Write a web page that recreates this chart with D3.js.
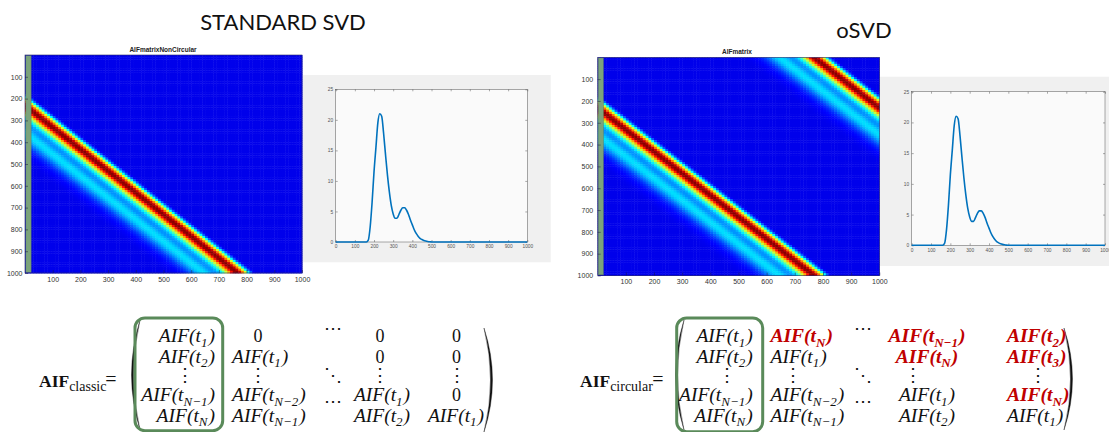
<!DOCTYPE html>
<html><head><meta charset="utf-8">
<script src="https://cdn.jsdelivr.net/npm/d3@7"></script>
<style>body{margin:0;background:#fff}svg{display:block}</style>
</head><body>
<svg id="c" width="1109" height="432"></svg>
<script>
// ---------------- DATA ----------------
const timeGrid = d3.range(0, 1000, 10); // sample times (10-unit steps)
const aifValues = [
 0,0,0,0,0,0,0,0,0,0,0,0,0,0,0,0,0,
 0.3,2.5,6.5,11.5,15.5,19.5,21.0,20.6,17.8,14.3,11.0,8.2,6.0,4.6,3.9,3.9,4.5,5.2,5.6,5.6,5.2,4.5,3.6,2.8,2.0,1.4,0.95,0.6,0.4,0.25,0.15,0.08,0.03,0.01,
 0,0,0,0,0,0,0,0,0,0,0,0,0,0,0,0,0,0,0,0,0,0,0,0,0,0,0,0,0,0,0,0,0,0,0,0,0,0,0,0,0,0,0,0,0,0,0,0,0
];
const heatTicks = [100,200,300,400,500,600,700,800,900,1000];
const lineXTicks = [0,100,200,300,400,500,600,700,800,900,1000];
const lineYTicks = [0,5,10,15,20,25];
const sectionTitles = ["STANDARD SVD", "oSVD"];
const heatTitles = ["AIFmatrixNonCircular", "AIFmatrix"];
const lhsSubs = ["classic", "circular"];
const classicRows = [
 ["1","0","⋯","0","0"],
 ["2","1","","0","0"],
 ["⋮","⋮","⋱","⋮","⋮"],
 ["N−1","N−2","","1","0"],
 ["N","N−1","⋯","2","1"]
];
const circularRows = [
 ["1","N","⋯","N−1","2"],
 ["2","1","","N","3"],
 ["⋮","⋮","⋱","⋮","⋮"],
 ["N−1","N−2","","1","N"],
 ["N","N−1","⋯","2","1"]
];
const circularRed = [
 [0,1,0,1,1],
 [0,0,0,1,1],
 [0,0,0,0,0],
 [0,0,0,0,1],
 [0,0,0,0,0]
];

// ---------------- LAYOUT ----------------
const svg = d3.select("#c");
const N = aifValues.length;
const jetClim = [-2.5, 21.2];
const jetPos = [0, .125, .375, .625, .875, 1];
const jet = d3.scaleLinear()
  .domain(jetPos.map(f => jetClim[0] + f*(jetClim[1]-jetClim[0])))
  .range(["#00007f","#0000ff","#00ffff","#ffff00","#ff0000","#7f0000"])
  .clamp(true);

const panels = [
  {heat:{x0:25,x1:302,y0:55,y1:273}, bar:[3,22], title:[163,52],
   gray:{x0:302.7,x1:550.7,y0:75,y1:262.3}, line:{x0:335.7,x1:527.3,y0:89.3,y1:242},
   labelGap:2.5, circular:false, secTitle:[283,30]},
  {heat:{x0:597.7,x1:879.3,y0:57.3,y1:275.5}, bar:[2,20], title:[737,54],
   gray:{x0:880,x1:1112,y0:76.7,y1:266}, line:{x0:911.7,x1:1105,y0:91.7,y1:245.3},
   labelGap:4.5, circular:true, secTitle:[864,38]}
];

panels.forEach((p, k) => {
  const g = svg.append("g");
  g.append("text").attr("x", p.secTitle[0]).attr("y", p.secTitle[1])
    .attr("text-anchor","middle").attr("font-family","Lato, 'Open Sans', sans-serif")
    .attr("font-size", 22).attr("fill","#111").text(sectionTitles[k]);

  g.append("rect").attr("x", p.gray.x0).attr("y", p.gray.y0)
    .attr("width", p.gray.x1 - p.gray.x0).attr("height", p.gray.y1 - p.gray.y0)
    .attr("fill", "#f0f0f0");

  // heatmap
  const hx = d3.scaleLinear().domain([0,1000]).range([p.heat.x0, p.heat.x1]);
  const hy = d3.scaleLinear().domain([0,1000]).range([p.heat.y0, p.heat.y1]);
  const cells = [];
  for (let i = 0; i < N; i++) for (let j = 0; j < N; j++) {
    let v;
    if (p.circular) v = aifValues[(i - j + N) % N];
    else v = i >= j ? aifValues[i - j] : 0;
    cells.push({r: timeGrid[i], c: timeGrid[j], v});
  }
  const hg = g.append("g");
  hg.selectAll("rect").data(cells).join("rect")
    .attr("x", d => hx(d.c)).attr("y", d => hy(d.r))
    .attr("width", hx(10) - hx(0) + 0.45).attr("height", hy(10) - hy(0) + 0.45)
    .attr("fill", d => jet(d.v));
  g.append("rect").attr("x", hx(p.bar[0])).attr("y", hy(3))
    .attr("width", hx(p.bar[1]) - hx(p.bar[0])).attr("height", hy(997) - hy(3))
    .attr("fill", "#7ba37b").attr("stroke","#5d7f5d").attr("stroke-width",0.5);
  g.append("rect").attr("x", p.heat.x0).attr("y", p.heat.y0)
    .attr("width", p.heat.x1 - p.heat.x0).attr("height", p.heat.y1 - p.heat.y0)
    .attr("fill","none").attr("stroke","#2a2a6a").attr("stroke-width",0.6);
  const ax = g.append("g").attr("transform", `translate(0,${p.heat.y1})`)
    .call(d3.axisBottom(hx).tickValues(heatTicks).tickFormat(d3.format("d")).tickSize(-3).tickPadding(4));
  const ay = g.append("g").attr("transform", `translate(${p.heat.x0},0)`)
    .call(d3.axisLeft(hy).tickValues(heatTicks).tickFormat(d3.format("d")).tickSize(-3).tickPadding(p.labelGap));
  [ax, ay].forEach(a => {
    a.select(".domain").remove();
    a.selectAll("line").attr("stroke","#1a1a40").attr("stroke-width",0.5);
    a.selectAll("text").attr("font-family","'Liberation Sans', Arial, sans-serif")
      .attr("font-size", 7).attr("fill","#333");
  });
  g.append("text").attr("x", p.title[0]).attr("y", p.title[1]).attr("text-anchor","middle")
    .attr("font-family","'Liberation Sans', Arial, sans-serif").attr("font-weight","bold")
    .attr("font-size", 6.5).attr("fill","#222").text(heatTitles[k]);

  // line plot
  const lx = d3.scaleLinear().domain([0,1000]).range([p.line.x0, p.line.x1]);
  const ly = d3.scaleLinear().domain([0,25]).range([p.line.y1, p.line.y0]);
  g.append("rect").attr("x", p.line.x0).attr("y", p.line.y0)
    .attr("width", p.line.x1 - p.line.x0).attr("height", p.line.y1 - p.line.y0)
    .attr("fill","#fafafa").attr("stroke","#555").attr("stroke-width",0.5);
  const lax = g.append("g").attr("transform", `translate(0,${p.line.y1})`)
    .call(d3.axisBottom(lx).tickValues(lineXTicks).tickFormat(d3.format("d")).tickSize(-2).tickPadding(3));
  const lay = g.append("g").attr("transform", `translate(${p.line.x0},0)`)
    .call(d3.axisLeft(ly).tickValues(lineYTicks).tickSize(-2).tickPadding(2.5));
  const latop = g.append("g").attr("transform", `translate(0,${p.line.y0})`)
    .call(d3.axisTop(lx).tickValues(lineXTicks).tickSize(-2).tickFormat(""));
  const laright = g.append("g").attr("transform", `translate(${p.line.x1},0)`)
    .call(d3.axisRight(ly).tickValues(lineYTicks).tickSize(-2).tickFormat(""));
  [lax, lay, latop, laright].forEach(a => {
    a.select(".domain").remove();
    a.selectAll("line").attr("stroke","#555").attr("stroke-width",0.5);
    a.selectAll("text").attr("font-family","'Liberation Sans', Arial, sans-serif")
      .attr("font-size", 4.8).attr("fill","#555");
  });
  const pts = aifValues.concat([0]);
  g.append("path")
    .attr("d", d3.line().x((d,i) => lx(i === N ? 1000 : timeGrid[i])).y(d => ly(d)).curve(d3.curveMonotoneX)(pts))
    .attr("fill","none").attr("stroke","#0072bd").attr("stroke-width",1.6);
});

// ---------------- FORMULAS ----------------
const rowBase = [342, 362.5, 381, 401, 421.5];
const formulaLayouts = [
  {rows: classicRows, red: null,
   lhs:{x:39, y:387, eq:111},
   cols:[{x:215,a:"end",s:185},{x:232,a:"start",s:258},{x:333,a:"middle",s:333},{x:382,a:"middle",s:380},{x:456,a:"middle",s:456.5}],
   box:{x0:135,x1:222.7,y0:318,y1:430.7},
   lp:{x:140,y0:320,y1:430}, rp:{x:484,y0:328,y1:432}},
  {rows: circularRows, red: circularRed,
   lhs:{x:580, y:387, eq:658},
   cols:[{x:752.7,a:"end",s:726.7},{x:770.5,a:"start",s:793},{x:863,a:"middle",s:863},{x:927,a:"middle",s:913},{x:1007,a:"start",s:1038}],
   box:{x0:676.7,x1:762.7,y0:318,y1:431.7},
   lp:{x:684,y0:320,y1:430}, rp:{x:1064,y0:328,y1:430}}
];
const ellDy = [-8, 0, 0, 0, -15];
const serif = "'Liberation Serif', 'DejaVu Serif', serif";

formulaLayouts.forEach((f, k) => {
  const g = svg.append("g").attr("font-family", serif);
  const lt = g.append("text").attr("x", f.lhs.x).attr("y", f.lhs.y).attr("fill","#111");
  lt.append("tspan").attr("font-weight","bold").attr("font-size",17.5).text("AIF");
  lt.append("tspan").attr("font-size",14).attr("dy",4).text(lhsSubs[k]);
  g.append("text").attr("x", f.lhs.eq).attr("y", f.lhs.y - 1).attr("text-anchor","middle")
    .attr("font-size",20).attr("fill","#111").text("=");
  const lp = f.lp, rp = f.rp;
  g.append("path").attr("d",
    `M${lp.x},${lp.y0} Q${lp.x-17},${(lp.y0+lp.y1)/2} ${lp.x},${lp.y1} Q${lp.x-13},${(lp.y0+lp.y1)/2} ${lp.x},${lp.y0}Z`)
    .attr("fill","#111").attr("stroke","#111").attr("stroke-width",0.4);
  g.append("path").attr("d",
    `M${rp.x},${rp.y0} Q${rp.x+17},${(rp.y0+rp.y1)/2} ${rp.x},${rp.y1} Q${rp.x+13},${(rp.y0+rp.y1)/2} ${rp.x},${rp.y0}Z`)
    .attr("fill","#111").attr("stroke","#111").attr("stroke-width",0.4);
  f.rows.forEach((row, r) => {
    row.forEach((e, c) => {
      if (e === "") return;
      const col = f.cols[c];
      const isRed = f.red && f.red[r][c];
      if (e === "0" || e === "⋮" || e === "⋯" || e === "⋱") {
        const dy = (e === "⋯") ? ellDy[r] : 0;
        g.append("text").attr("x", col.s).attr("y", rowBase[r] + dy)
          .attr("text-anchor","middle").attr("font-size",18).attr("fill","#111")
          .attr("font-family", e === "0" ? serif : "'DejaVu Serif', serif")
          .text(e);
        return;
      }
      const t = g.append("text").attr("x", col.x).attr("y", rowBase[r])
        .attr("text-anchor", col.a).attr("font-size", 19.5).attr("font-style","italic")
        .attr("fill", isRed ? "#c00000" : "#111")
        .attr("font-weight", isRed ? "bold" : "normal");
      t.append("tspan").text("AIF(t");
      t.append("tspan").attr("dy", 4.5).attr("font-size", 13).text(e);
      t.append("tspan").attr("dy", -4.5).attr("dx", 1).text(")");
    });
  });
  g.append("rect").attr("x", f.box.x0).attr("y", f.box.y0)
    .attr("width", f.box.x1 - f.box.x0).attr("height", f.box.y1 - f.box.y0)
    .attr("rx", 10).attr("fill","none").attr("stroke","#5a8a5a").attr("stroke-width",3);
});
</script>
</body></html>
